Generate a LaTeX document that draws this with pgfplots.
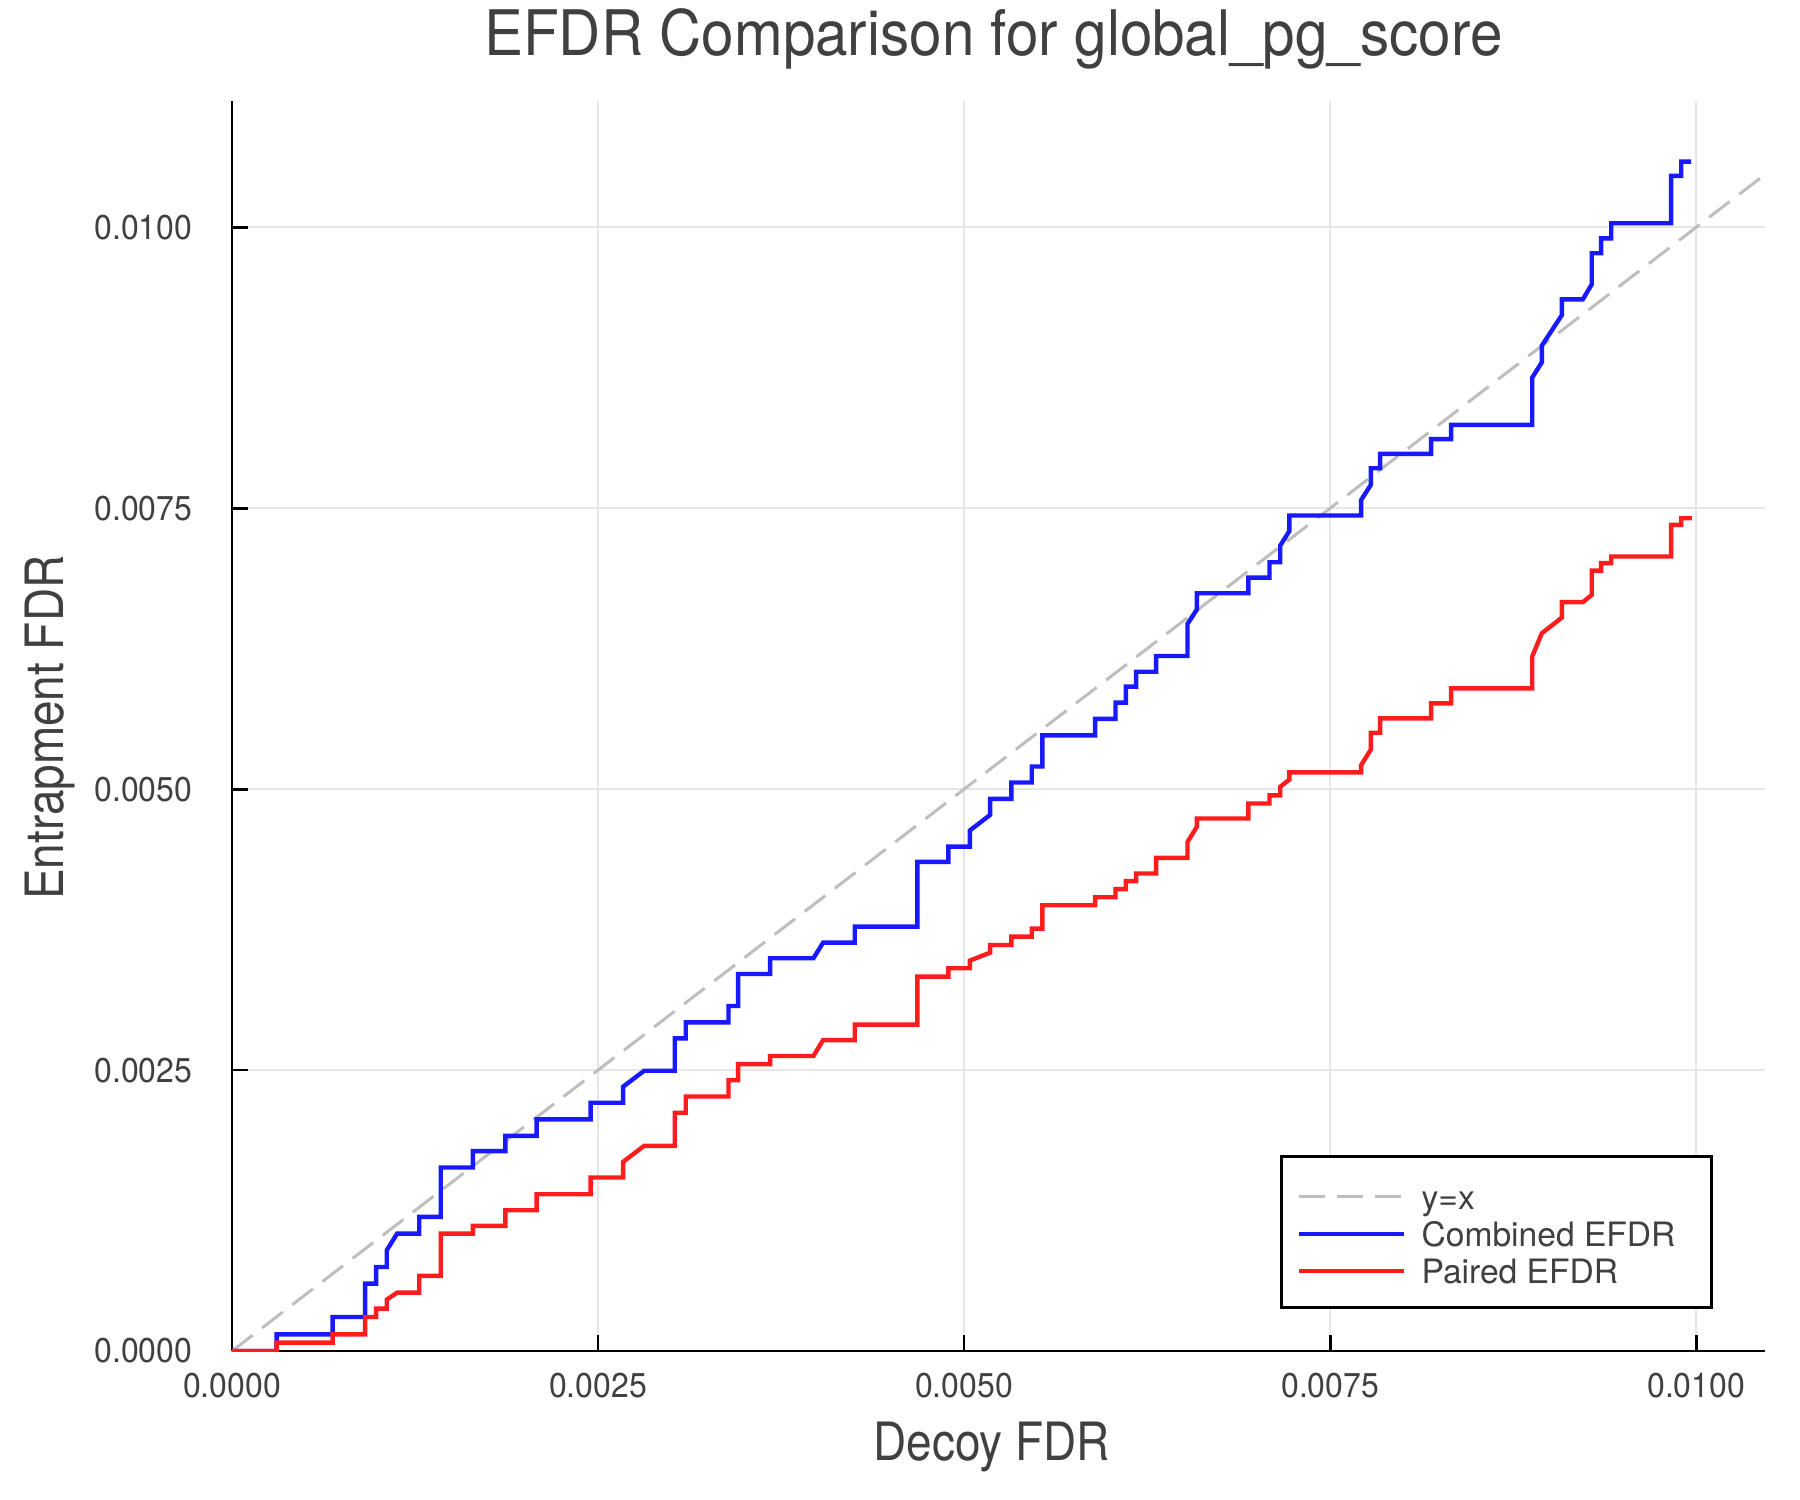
\documentclass[border=0pt]{standalone}
\usepackage{fontspec}
\setmainfont{TeX Gyre Heros}
\usepackage{pgfplots}
\pgfplotsset{compat=1.18}

\definecolor{txt}{HTML}{404040}
\definecolor{lineblue}{RGB}{25,25,255}
\definecolor{linered}{RGB}{255,28,28}
\definecolor{diag}{RGB}{190,190,190}
\definecolor{gridc}{RGB}{230,230,230}

\begin{document}
\begin{tikzpicture}
% fixes the page at 1800x1500 px (4 px per pt)
\path[use as bounding box] (-58pt,-37.25pt) rectangle (392pt,337.75pt);
\begin{axis}[
    scale only axis,
    width=383.25pt, height=312.5pt,
    xmin=0, xmax=0.01047,
    ymin=0, ymax=0.011124,
    axis lines=left,
    axis line style={-, black, line width=0.7pt},
    tick align=inside,
    major tick length=4pt,
    major tick style={black, line width=0.7pt},
    grid=major,
    major grid style={gridc, line width=0.5pt},
    xtick={0,0.0025,0.005,0.0075,0.01},
    ytick={0,0.0025,0.005,0.0075,0.01},
    scaled x ticks=false, scaled y ticks=false,
    /pgf/number format/assume math mode=true,
    /pgf/number format/fixed,
    /pgf/number format/fixed zerofill,
    /pgf/number format/precision=4,
    xticklabel style={font=\fontsize{8.6}{10}\selectfont, text=txt, inner sep=0pt,
        anchor=base, yshift=-11.5pt, xscale=0.93},
    yticklabel style={font=\fontsize{8.6}{10}\selectfont, text=txt, inner sep=0pt,
        anchor=east, xshift=-9.75pt, xscale=0.93},
    title={EFDR Comparison for global\_pg\_score},
    title style={at={(0.4967,1.0176)}, anchor=base, inner sep=0pt, text=txt,
        font=\fontsize{15.7}{18}\selectfont, xscale=0.93},
    xlabel={Decoy FDR},
    xlabel style={at={(0.4955,-0.0872)}, anchor=base, inner sep=0pt, text=txt,
        font=\fontsize{13.2}{15}\selectfont, xscale=0.87},
    ylabel={Entrapment FDR},
    ylabel style={at={(-0.1096,0.4986)}, rotate=0, anchor=base, inner sep=0pt, text=txt,
        font=\fontsize{13.2}{15}\selectfont, xscale=0.87},
    legend cell align=left,
    legend image code/.code={\draw[#1] (0pt,-0.5pt) -- (26.25pt,-0.5pt);},
    legend style={at={(0.9661,0.0336)}, anchor=south east,
        draw=black, line width=0.7pt, fill=white,
        inner xsep=4pt, inner ysep=4.95pt,
        column sep=3.75pt,
        font=\fontsize{8.4}{10}\selectfont, text=txt,
        nodes={inner sep=0pt, text height=8.25pt, text depth=1.05pt}},
]
\addplot[diag, line width=0.75pt, dash pattern=on 6.5pt off 3pt] coordinates {(0,0) (0.0106,0.0106)};
\addlegendentry{\makebox[68.5pt][l]{y=x}}

\addplot[lineblue, line width=1.1pt, line join=miter] coordinates {
(0,0)
(0.000305,0) (0.000305,0.000148)
(0.000687,0.000148) (0.000687,0.000303)
(0.000909,0.000303) (0.000909,0.000600)
(0.000984,0.000600) (0.000984,0.000748)
(0.001057,0.000748) (0.001057,0.000897)
(0.001128,0.001045)
(0.001279,0.001045) (0.001279,0.001194)
(0.001426,0.001194) (0.001426,0.001633)
(0.001645,0.001633) (0.001645,0.001779)
(0.001867,0.001779) (0.001867,0.001915)
(0.002081,0.001915) (0.002081,0.002061)
(0.002449,0.002061) (0.002449,0.002209)
(0.002671,0.002209) (0.002671,0.002352)
(0.002815,0.002494)
(0.003024,0.002494) (0.003024,0.002782)
(0.003099,0.002782) (0.003099,0.002924)
(0.003391,0.002924) (0.003391,0.003070)
(0.003457,0.003070) (0.003457,0.003355)
(0.003675,0.003355) (0.003675,0.003495)
(0.003971,0.003495) (0.004037,0.003634)
(0.004253,0.003634) (0.004253,0.003777)
(0.004681,0.003777) (0.004681,0.004353)
(0.004893,0.004353) (0.004893,0.004489)
(0.005039,0.004489) (0.005039,0.004632)
(0.005178,0.004771) (0.005178,0.004914)
(0.005323,0.004914) (0.005323,0.005059)
(0.005462,0.005059) (0.005462,0.005202)
(0.005535,0.005202) (0.005535,0.005478)
(0.005895,0.005478) (0.005895,0.005626)
(0.006034,0.005626) (0.006034,0.005770)
(0.006105,0.005770) (0.006105,0.005912)
(0.006175,0.005912) (0.006175,0.006045)
(0.006312,0.006045) (0.006312,0.006185)
(0.006526,0.006185) (0.006526,0.006470)
(0.006590,0.006600) (0.006590,0.006743)
(0.006942,0.006743) (0.006942,0.006882)
(0.007086,0.006882) (0.007086,0.007019)
(0.007159,0.007019) (0.007159,0.007167)
(0.007222,0.007298) (0.007222,0.007435)
(0.007712,0.007435) (0.007712,0.007574)
(0.007778,0.007708) (0.007778,0.007856)
(0.007841,0.007856) (0.007841,0.007984)
(0.008190,0.007984) (0.008190,0.008115)
(0.008326,0.008115) (0.008326,0.008242)
(0.008880,0.008242) (0.008880,0.008662)
(0.008946,0.008799) (0.008946,0.008947)
(0.009083,0.009220) (0.009083,0.009359)
(0.009226,0.009359) (0.009287,0.009493)
(0.009287,0.009769)
(0.009351,0.009769) (0.009351,0.009902)
(0.009420,0.009902) (0.009420,0.010036)
(0.009829,0.010036) (0.009829,0.010457)
(0.009898,0.010457) (0.009898,0.010584)
(0.009966,0.010584)
};
\addlegendentry{\makebox[68.5pt][l]{Combined EFDR}}

\addplot[linered, line width=1.1pt, line join=miter] coordinates {
(0,0)
(0.000305,0) (0.000305,0.000074)
(0.000687,0.000074) (0.000687,0.000148)
(0.000909,0.000148) (0.000909,0.000303)
(0.000984,0.000303) (0.000984,0.000377)
(0.001057,0.000377) (0.001057,0.000457)
(0.001128,0.000520)
(0.001279,0.000520) (0.001279,0.000668)
(0.001426,0.000668) (0.001426,0.001045)
(0.001645,0.001045) (0.001645,0.001113)
(0.001867,0.001113) (0.001867,0.001253)
(0.002081,0.001253) (0.002081,0.001395)
(0.002449,0.001395) (0.002449,0.001544)
(0.002671,0.001544) (0.002671,0.001683)
(0.002815,0.001826)
(0.003024,0.001826) (0.003024,0.002120)
(0.003099,0.002120) (0.003099,0.002265)
(0.003391,0.002265) (0.003391,0.002411)
(0.003457,0.002411) (0.003457,0.002553)
(0.003675,0.002553) (0.003675,0.002625)
(0.003971,0.002625) (0.004037,0.002767)
(0.004253,0.002767) (0.004253,0.002904)
(0.004681,0.002904) (0.004681,0.003331)
(0.004893,0.003331) (0.004893,0.003406)
(0.005039,0.003406) (0.005039,0.003474)
(0.005178,0.003545) (0.005178,0.003613)
(0.005323,0.003613) (0.005323,0.003688)
(0.005462,0.003688) (0.005462,0.003759)
(0.005535,0.003759) (0.005535,0.003967)
(0.005895,0.003967) (0.005895,0.004038)
(0.006034,0.004038) (0.006034,0.004110)
(0.006105,0.004110) (0.006105,0.004181)
(0.006175,0.004181) (0.006175,0.004249)
(0.006312,0.004249) (0.006312,0.004389)
(0.006526,0.004389) (0.006526,0.004531)
(0.006590,0.004665) (0.006590,0.004739)
(0.006942,0.004739) (0.006942,0.004872)
(0.007086,0.004872) (0.007086,0.004944)
(0.007159,0.004944) (0.007159,0.005021)
(0.007222,0.005086) (0.007222,0.005149)
(0.007712,0.005149) (0.007712,0.005214)
(0.007778,0.005353) (0.007778,0.005502)
(0.007841,0.005502) (0.007841,0.005630)
(0.008190,0.005630) (0.008190,0.005763)
(0.008326,0.005763) (0.008326,0.005897)
(0.008880,0.005897) (0.008880,0.006180)
(0.008946,0.006388)
(0.009083,0.006527) (0.009083,0.006664)
(0.009226,0.006664) (0.009287,0.006729)
(0.009287,0.006945)
(0.009351,0.006945) (0.009351,0.007011)
(0.009420,0.007011) (0.009420,0.007070)
(0.009829,0.007070) (0.009829,0.007352)
(0.009898,0.007352) (0.009898,0.007411)
(0.009970,0.007411)
};
\addlegendentry{\makebox[68.5pt][l]{Paired EFDR}}
\end{axis}
\end{tikzpicture}
\end{document}
